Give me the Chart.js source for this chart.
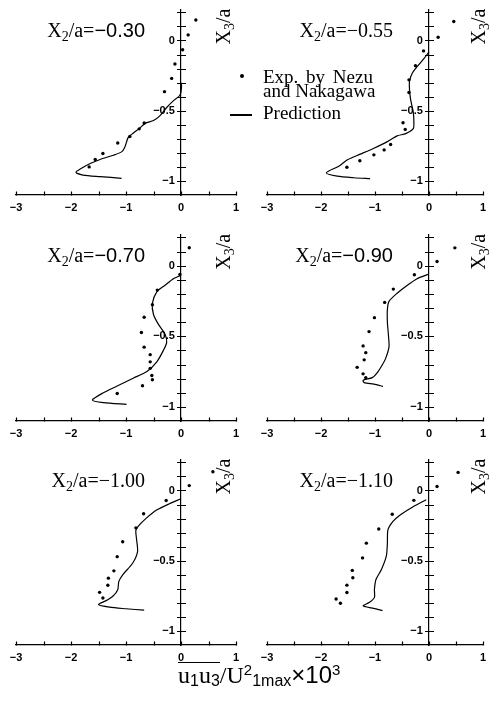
<!DOCTYPE html>
<html>
<head>
<meta charset="utf-8">
<script src="https://cdn.jsdelivr.net/npm/chart.js@4.4.1/dist/chart.umd.min.js"></script>
<style>
    html, body { margin: 0; padding: 0; background: #fff; }
    #fig { position: relative; width: 492px; height: 701px; overflow: hidden; background: #fff; }
    #fig canvas { position: absolute; }
    .txt { position: absolute; white-space: nowrap; color: #000; }
    .serif { font-family: 'Liberation Serif', 'Times New Roman', serif; font-size: 19px; line-height: 19px; }
    .mark-dot { position: absolute; width: 4px; height: 4px; border-radius: 50%; background: #000; }
    .mark-dash { position: absolute; height: 1.5px; background: #000; }
    #xtitle { left: 178px; top: 662px; font-family: 'Liberation Serif', 'Times New Roman', serif; font-size: 24px; line-height: 24px; }
    #xtitle .ov { display: inline-block; border-top: 1.5px solid #000; }
    #xtitle .sans { font-family: 'Liberation Sans', Arial, sans-serif; }
    #xtitle .sb { font-family: 'Liberation Sans', Arial, sans-serif; font-size: 16px; line-height: 0; position: relative; top: 3px; }
    #xtitle .sp { font-family: 'Liberation Sans', Arial, sans-serif; font-size: 15px; line-height: 0; position: relative; top: -8px; }
</style>
</head>
<body>
<div id="fig">
    <canvas id="panel0" width="246" height="225" style="left:0;top:0"></canvas>
    <canvas id="panel1" width="246" height="225" style="left:246px;top:0"></canvas>
    <canvas id="panel2" width="246" height="225" style="left:0;top:225px"></canvas>
    <canvas id="panel3" width="246" height="225" style="left:246px;top:225px"></canvas>
    <canvas id="panel4" width="246" height="225" style="left:0;top:450px"></canvas>
    <canvas id="panel5" width="246" height="225" style="left:246px;top:450px"></canvas>

    <div class="mark-dot" style="left:240px;top:74px"></div>
    <div class="txt serif" style="left:263px;top:67px;word-spacing:3px">Exp. by Nezu</div>
    <div class="txt serif" style="left:263px;top:81px">and Nakagawa</div>
    <div class="mark-dash" style="left:230px;top:114px;width:22px"></div>
    <div class="txt serif" style="left:263px;top:103px">Prediction</div>

    <div id="xtitle" class="txt"><span class="ov">u<span class="sb">1</span>u<span class="sb">3</span></span>/U<span class="sp">2</span><span class="sb">1max</span><span class="sans">×10</span><span class="sp">3</span></div>
</div>
<script>
// spanwise positions of the six profiles
var x2Values = [-0.30, -0.55, -0.70, -0.90, -1.00, -1.10];

// tick labels
var xTickLabels = [-3, -2, -1, 0, 1];
var yTickLabels = [0, -0.5, -1];

// measured points [u1u3, x3/a]
var exp030 = [[0.27, 0.146], [0.13, 0.04], [0.03, -0.066], [-0.11, -0.167], [-0.17, -0.27], [-0.30, -0.364],
    [-0.67, -0.587], [-0.76, -0.629], [-0.93, -0.683], [-1.15, -0.73], [-1.42, -0.805], [-1.56, -0.847], [-1.67, -0.90]];
var exp055 = [[0.46, 0.135], [0.17, 0.023], [-0.10, -0.074], [-0.25, -0.18], [-0.37, -0.28], [-0.37, -0.37],
    [-0.48, -0.586], [-0.44, -0.633], [-0.71, -0.74], [-0.83, -0.779], [-1.02, -0.814], [-1.28, -0.856], [-1.52, -0.902]];
var exp070 = [[0.15, 0.127], [-0.02, -0.062], [-0.43, -0.173], [-0.52, -0.277], [-0.67, -0.365], [-0.72, -0.473],
    [-0.67, -0.577], [-0.56, -0.63], [-0.56, -0.681], [-0.56, -0.727], [-0.53, -0.778], [-0.52, -0.808], [-0.70, -0.85], [-1.16, -0.905]];
var exp090 = [[0.48, 0.126], [0.15, 0.03], [-0.27, -0.064], [-0.66, -0.166], [-0.82, -0.26], [-1.01, -0.368],
    [-1.11, -0.467], [-1.22, -0.568], [-1.17, -0.616], [-1.20, -0.667], [-1.33, -0.72], [-1.22, -0.766], [-1.17, -0.793]];
var exp100 = [[0.58, 0.134], [0.15, 0.035], [-0.27, -0.071], [-0.68, -0.165], [-0.82, -0.266], [-1.06, -0.365],
    [-1.16, -0.471], [-1.22, -0.572], [-1.32, -0.624], [-1.33, -0.675], [-1.48, -0.725], [-1.42, -0.765]];
var exp110 = [[0.54, 0.129], [0.15, 0.028], [-0.28, -0.07], [-0.68, -0.169], [-0.93, -0.274], [-1.16, -0.375],
    [-1.23, -0.48], [-1.42, -0.569], [-1.41, -0.621], [-1.52, -0.674], [-1.52, -0.726], [-1.72, -0.773], [-1.64, -0.803]];

// predicted profiles
var pred030 = [[0, -0.30], [0.01, -0.33], [-0.02, -0.39], [-0.14, -0.43], [-0.26, -0.477], [-0.38, -0.535], [-0.50, -0.57],
    [-0.65, -0.59], [-0.75, -0.624], [-0.87, -0.66], [-0.96, -0.69], [-1.02, -0.758], [-1.08, -0.793], [-1.23, -0.817],
    [-1.47, -0.847], [-1.65, -0.876], [-1.81, -0.91], [-1.91, -0.939], [-1.78, -0.958], [-1.47, -0.969], [-1.08, -0.981]];
var pred055 = [[0, -0.081], [-0.09, -0.128], [-0.22, -0.186], [-0.31, -0.233], [-0.36, -0.29], [-0.36, -0.35], [-0.34, -0.419],
    [-0.29, -0.512], [-0.28, -0.58], [-0.29, -0.628], [-0.43, -0.663], [-0.59, -0.679], [-0.77, -0.72], [-1.02, -0.767],
    [-1.27, -0.809], [-1.51, -0.849], [-1.67, -0.895], [-1.90, -0.942], [-1.70, -0.965], [-1.39, -0.977], [-1.09, -0.984]];
var pred070 = [[0, -0.069], [-0.14, -0.092], [-0.29, -0.139], [-0.44, -0.185], [-0.52, -0.266], [-0.50, -0.346], [-0.41, -0.416],
    [-0.29, -0.485], [-0.26, -0.543], [-0.32, -0.60], [-0.44, -0.681], [-0.62, -0.75], [-0.87, -0.797], [-1.17, -0.854],
    [-1.41, -0.90], [-1.61, -0.951], [-1.41, -0.97], [-0.99, -0.982]];
var pred090 = [[-0.02, -0.062], [-0.22, -0.092], [-0.40, -0.138], [-0.59, -0.195], [-0.74, -0.253], [-0.77, -0.31], [-0.77, -0.40],
    [-0.75, -0.494], [-0.74, -0.575], [-0.80, -0.655], [-0.86, -0.70], [-0.96, -0.759], [-1.05, -0.793], [-1.22, -0.811],
    [-1.20, -0.828], [-1.02, -0.839], [-0.85, -0.855]];
var pred100 = [[0, -0.059], [-0.21, -0.094], [-0.45, -0.141], [-0.64, -0.20], [-0.76, -0.247], [-0.82, -0.282], [-0.81, -0.341],
    [-0.79, -0.435], [-0.88, -0.518], [-1.06, -0.60], [-1.13, -0.647], [-1.15, -0.706], [-1.24, -0.753], [-1.36, -0.784],
    [-1.50, -0.812], [-1.30, -0.831], [-1.00, -0.842], [-0.67, -0.852]];
var pred110 = [[-0.05, -0.066], [-0.30, -0.117], [-0.54, -0.176], [-0.67, -0.222], [-0.76, -0.281], [-0.77, -0.375], [-0.79, -0.468],
    [-0.88, -0.562], [-0.98, -0.632], [-1.01, -0.703], [-1.01, -0.761], [-1.10, -0.796], [-1.22, -0.82], [-1.13, -0.831],
    [-0.98, -0.843], [-0.86, -0.855]];

var expSeries = [exp030, exp055, exp070, exp090, exp100, exp110];
var predSeries = [pred030, pred055, pred070, pred090, pred100, pred110];

var SERIF = "'Liberation Serif', 'Times New Roman', serif";
var SANS = "'Liberation Sans', Arial, sans-serif";

// canvas padding per panel so that all six plot frames line up with the figure
var frames = [
    {padL: 16, padR: 10, padT: 8, axisH: 30, gap: 43, sans: true},
    {padL: 21, padR: 9, padT: 8, axisH: 30, gap: 50, sans: false},
    {padL: 16, padR: 10, padT: 6, axisH: 29, gap: 43, sans: true},
    {padL: 21, padR: 9, padT: 6, axisH: 29, gap: 50, sans: true},
    {padL: 16, padR: 10, padT: 7, axisH: 30, gap: 43, sans: false},
    {padL: 21, padR: 9, padT: 7, axisH: 30, gap: 50, sans: false}
];

function minus(v) {
    return String(v).replace('-', '\u2212');
}

function hasLabel(list, v) {
    return list.some(function(t) { return Math.abs(t - v) < 1e-6; });
}

function toPoints(list) {
    return list.map(function(p) { return {x: p[0], y: p[1]}; });
}

function partsWidth(ctx, parts) {
    var w = 0;
    parts.forEach(function(p) { ctx.font = p.f; w += ctx.measureText(p.t).width; });
    return w;
}

function drawParts(ctx, parts, x, y) {
    parts.forEach(function(p) {
        ctx.font = p.f;
        ctx.fillText(p.t, x, y + (p.dy || 0));
        x += ctx.measureText(p.t).width;
    });
}

// tick marks: x ticks point up into the plot, x3 ticks cross the axis
var axisMarks = {
    id: 'axisMarks',
    afterDraw: function(chart) {
        var ctx = chart.ctx,
            xs = chart.scales.x,
            ys = chart.scales.y,
            x0 = Math.round(xs.getPixelForValue(0)) + 0.5,
            yb = Math.round(chart.chartArea.bottom) + 0.5;

        ctx.save();
        ctx.strokeStyle = '#000';
        ctx.lineWidth = 1.2;
        ctx.beginPath();
        for (var i = -6; i <= 2; i++) {
            var px = Math.round(xs.getPixelForValue(i / 2)) + 0.5;
            ctx.moveTo(px, yb);
            ctx.lineTo(px, yb - 4);
        }
        for (var k = -10; k <= 2; k++) {
            var py = Math.round(ys.getPixelForValue(k / 10)) + 0.5;
            ctx.moveTo(x0 - 4.5, py);
            ctx.lineTo(x0 + 4.5, py);
        }
        ctx.stroke();
        ctx.restore();
    }
};

// panel caption X2/a=... and the rotated X3/a axis title
var panelText = {
    id: 'panelText',
    afterDraw: function(chart, args, opts) {
        var ctx = chart.ctx,
            x0 = chart.scales.x.getPixelForValue(0),
            y0 = chart.scales.y.getPixelForValue(0),
            title = [
                {t: 'X', f: '20px ' + SERIF},
                {t: '2', f: '14px ' + SERIF, dy: 4},
                {t: '/a=', f: '20px ' + SERIF},
                {t: opts.label, f: '20px ' + (opts.sans ? SANS : SERIF)}
            ];

        ctx.save();
        ctx.fillStyle = '#000';
        ctx.textAlign = 'left';
        ctx.textBaseline = 'alphabetic';
        drawParts(ctx, title, x0 - 36 - partsWidth(ctx, title), y0 - 4);

        ctx.translate(x0 + opts.gap + 6, y0 + 4);
        ctx.rotate(-Math.PI / 2);
        drawParts(ctx, [
            {t: 'X', f: '20px ' + SERIF},
            {t: '3', f: '14px ' + SERIF, dy: 4},
            {t: '/a', f: '20px ' + SERIF}
        ], 0, 0);
        ctx.restore();
    }
};

function initPanel(index) {
    var frame = frames[index];

    return new Chart(document.getElementById('panel' + index), {
        type: 'scatter',
        data: {
            datasets: [{
                label: 'Prediction',
                data: toPoints(predSeries[index]),
                showLine: true,
                borderColor: '#000',
                borderWidth: 1.2,
                pointRadius: 0,
                tension: 0.25,
                fill: false
            }, {
                label: 'Exp. by Nezu and Nakagawa',
                data: toPoints(expSeries[index]),
                pointRadius: 1.7,
                pointBackgroundColor: '#000',
                pointBorderWidth: 0
            }]
        },
        options: {
            responsive: false,
            animation: false,
            events: [],
            layout: {
                padding: {left: frame.padL, right: frame.padR, top: frame.padT, bottom: 0}
            },
            plugins: {
                legend: {display: false},
                tooltip: {enabled: false},
                panelText: {
                    label: minus(x2Values[index].toFixed(2)),
                    sans: frame.sans,
                    gap: frame.gap
                }
            },
            scales: {
                x: {
                    type: 'linear',
                    position: 'bottom',
                    min: -3,
                    max: 1,
                    afterFit: function(scale) { scale.height = frame.axisH; },
                    grid: {drawOnChartArea: false, drawTicks: false},
                    border: {display: true, color: '#000', width: 1.2},
                    ticks: {
                        stepSize: 0.5,
                        autoSkip: false,
                        maxRotation: 0,
                        padding: 6,
                        color: '#000',
                        font: {family: SANS, size: 11, weight: 'bold'},
                        callback: function(v) { return hasLabel(xTickLabels, v) ? minus(v) : ''; }
                    }
                },
                y: {
                    type: 'linear',
                    position: {x: 0},
                    min: -1.1,
                    max: 0.22,
                    grid: {drawOnChartArea: false, drawTicks: false},
                    border: {display: true, color: '#000', width: 1.2},
                    ticks: {
                        stepSize: 0.1,
                        includeBounds: false,
                        autoSkip: false,
                        color: '#000',
                        font: {family: SANS, size: 11, weight: 'bold'},
                        // the centred axis ignores tick padding, so a figure space keeps labels off the axis
                        callback: function(v) { return hasLabel(yTickLabels, v) ? minus(v) + '\u2007' : ''; }
                    }
                }
            }
        },
        plugins: [axisMarks, panelText]
    });
}

for (var i = 0; i < 6; i++) {
    initPanel(i);
}
</script>
</body>
</html>
